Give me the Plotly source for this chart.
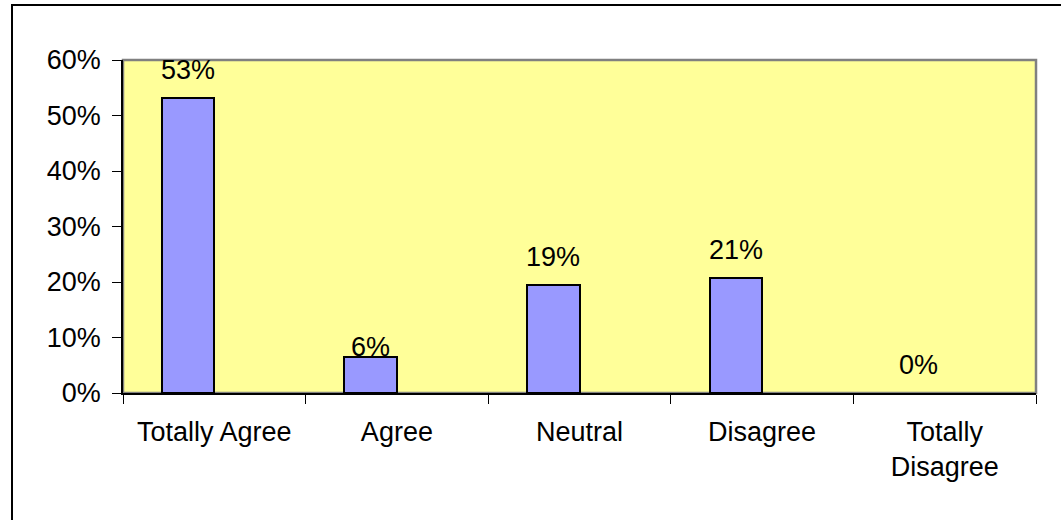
import plotly.graph_objects as go

categories = ["Totally Agree", "Agree", "Neutral", "Disagree", "Totally Disagree"]
tick_labels = ["Totally Agree", "Agree", "Neutral", "Disagree", "Totally<br>Disagree"]
values = [0.532, 0.064, 0.194, 0.207, 0.0]
y_ticks = [0, 0.1, 0.2, 0.3, 0.4, 0.5, 0.6]
y_tick_labels = ["0%", "10%", "20%", "30%", "40%", "50%", "60%"]

FONT = "Liberation Sans, Arial, sans-serif"
FS = 27
W = 1061
H = 520
ML, MR, MT, MB = 123, 25, 60, 127
BAR_W = 0.288

fig = go.Figure()
fig.add_trace(go.Bar(
    x=categories,
    y=values,
    width=BAR_W,
    offset=-BAR_W,
    marker=dict(color="#9999FF",
                line=dict(color="black", width=[2 if v > 0 else 0 for v in values])),
    hoverinfo="x+y",
))

for i, (c, v) in enumerate(zip(categories, values)):
    shift = 10 if c == "Agree" else 28
    fig.add_annotation(
        x=i - BAR_W / 2, y=v, xref="x", yref="y",
        text=f"{v:.0%}", showarrow=False,
        yanchor="middle", yshift=shift,
        font=dict(family=FONT, size=FS, color="black"),
    )

pw = W - ML - MR
ph = H - MT - MB
# plot area border (grey)
fig.add_shape(type="rect", xref="paper", yref="paper", x0=0, y0=0, x1=1, y1=1,
              line=dict(color="#808080", width=2.5), layer="below")
# outer chart border (cropped at right and bottom)
fig.add_shape(type="rect", xref="paper", yref="paper",
              x0=(12 - ML) / pw, x1=(W + 20 - ML) / pw,
              y0=(MT + ph - (H + 20)) / ph, y1=(MT + ph - 5) / ph,
              line=dict(color="black", width=2), layer="below")

fig.update_layout(
    width=W, height=H,
    margin=dict(l=ML, r=MR, t=MT, b=MB),
    paper_bgcolor="white",
    plot_bgcolor="#FFFF99",
    showlegend=False,
    bargap=0,
    font=dict(family=FONT, size=FS, color="black"),
    xaxis=dict(
        type="category",
        range=[-0.5, 4.5],
        tickmode="array",
        tickvals=categories,
        ticktext=tick_labels,
        tickson="boundaries",
        ticks="outside", ticklen=9, tickcolor="black", tickwidth=1,
        showline=True, linecolor="black", linewidth=1.5,
        showgrid=False, zeroline=False,
        tickfont=dict(family=FONT, size=FS, color="black"),
        ticklabelstandoff=14,
    ),
    yaxis=dict(
        range=[0, 0.6],
        tickmode="array",
        tickvals=y_ticks,
        ticktext=y_tick_labels,
        ticks="outside", ticklen=9, tickcolor="black", tickwidth=1,
        showline=True, linecolor="black", linewidth=1.5,
        showgrid=False, zeroline=False,
        tickfont=dict(family=FONT, size=FS, color="black"),
        ticklabelstandoff=6,
    ),
)

fig.write_html(
    "out.html",
    config={"displayModeBar": False},
    post_script="document.body.style.margin='0';document.body.style.overflow='hidden';",
)
